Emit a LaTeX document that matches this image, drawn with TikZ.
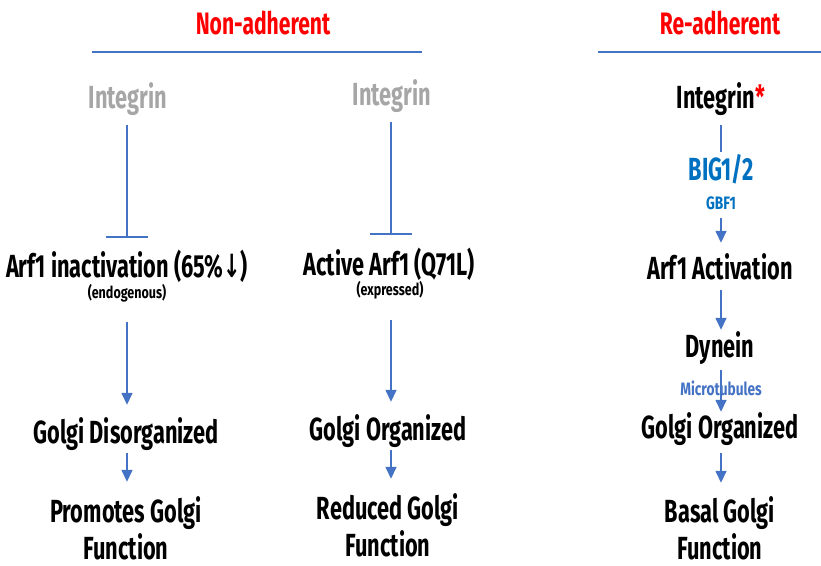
\documentclass[tikz,border=0pt]{standalone}
\usepackage{fontspec}
\setmainfont{Fira Sans}[FakeStretch=0.68]
\newfontfamily\subfont{Fira Sans}[FakeStretch=0.76]
\newfontfamily\arrowfont{DejaVu Sans}[FakeStretch=0.65]
\usetikzlibrary{arrows.meta}
\definecolor{lineblue}{HTML}{4472C4}
\definecolor{bigblue}{HTML}{0070C0}
\definecolor{greytxt}{HTML}{A6A6A6}
\definecolor{redtxt}{HTML}{FF0000}
\tikzset{
  lbl/.style={inner sep=0pt, anchor=base, text height=22pt, text depth=0pt,
    font=\bfseries\fontsize{32}{36}\selectfont},
  hdr/.style={lbl, text=redtxt, text height=21pt, font=\bfseries\fontsize{31}{34}\selectfont},
  sub/.style={lbl, text height=12pt, font=\subfont\bfseries\fontsize{16.5}{20}\selectfont},
  small/.style={lbl, text height=13pt, font=\subfont\bfseries\fontsize{18}{21}\selectfont},
  conn/.style={draw=lineblue, line width=1.5pt},
  arr/.style={conn, -{Triangle[length=12pt,width=11pt]}},
  inh/.style={conn, -{Bar[width=42pt,line width=1.5pt]}},
}
\begin{document}
\begin{tikzpicture}[x=1pt,y=-1pt]
\useasboundingbox (0,0) rectangle (821,565);
% headers
\node[hdr] (hNA) at (263,34) {Non-adherent};
\node[hdr] (hRA) at (720,34) {Re-adherent};
\draw[conn] (92,52) -- (422,52);
\draw[conn] (598,52) -- (821,52);
% left column
\node[lbl, text=greytxt] (intL) at (128,108) {Integrin};
\node[lbl] (arfL) at (127,277) {Arf1 inactivation (65\%{\arrowfont ↓})};
\node[sub] (endL) at (127,298) {(endogenous)};
\node[lbl] (golL) at (126,443) {Golgi Disorganized};
\node[lbl] (pgA) at (126,522) {Promotes Golgi};
\node[lbl] (pgB) at (126,559) {Function};
\draw[inh, shorten <=17pt, shorten >=17pt] (intL.south -| 127,0) -- (arfL.north -| 127,0);
\draw[arr, shorten <=24pt, shorten >=16pt] (endL.south -| 127,0) -- (golL.north -| 127,0);
\draw[arr, shorten <=10pt, shorten >=18pt] (golL.south -| 127,0) -- (pgA.north -| 127,0);
% middle column
\node[lbl, text=greytxt] (intM) at (392,105) {Integrin};
\node[lbl] (arfM) at (389,275) {Active Arf1 (Q71L)};
\node[sub] (expM) at (390,295) {(expressed)};
\node[lbl] (golM) at (388,440) {Golgi Organized};
\node[lbl] (rgA) at (388,519) {Reduced Golgi};
\node[lbl] (rgB) at (388,556) {Function};
\draw[inh, shorten <=17pt, shorten >=18pt] (intM.south -| 391,0) -- (arfM.north -| 391,0);
\draw[arr, shorten <=25pt, shorten >=16pt] (expM.south -| 391,0) -- (golM.north -| 391,0);
\draw[arr, shorten <=10pt, shorten >=18pt] (golM.south -| 391,0) -- (rgA.north -| 391,0);
% right column
\node[lbl] (intR) at (721,108) {Integrin\textcolor{redtxt}{*}};
\node[lbl, text=bigblue] (big) at (721,180) {BIG1/2};
\node[small, text=bigblue] (gbf) at (721,209) {GBF1};
\node[lbl] (arfR) at (720,279) {Arf1 Activation};
\node[lbl] (dyn) at (720,357) {Dynein};
\node[lbl] (golR) at (720,438) {Golgi Organized};
\node[lbl] (baA) at (720,522) {Basal Golgi};
\node[lbl] (baB) at (720,559) {Function};
\draw[conn, shorten <=17pt, shorten >=6pt] (intR.south -| 721,0) -- (big.north -| 721,0);
\draw[arr, shorten <=9pt, shorten >=14pt] (gbf.south -| 721,0) -- (arfR.north -| 721,0);
\draw[arr, shorten <=11pt, shorten >=5pt] (arfR.south -| 721,0) -- (dyn.north -| 721,0);
\draw[arr, shorten <=13pt, shorten >=4pt] (dyn.south -| 721,0) -- (golR.north -| 721,0);
\node[small, text=lineblue] (mt) at (721,395) {Microtubules};
\draw[arr, shorten <=15pt, shorten >=17pt] (golR.south -| 721,0) -- (baA.north -| 721,0);
\end{tikzpicture}
\end{document}
